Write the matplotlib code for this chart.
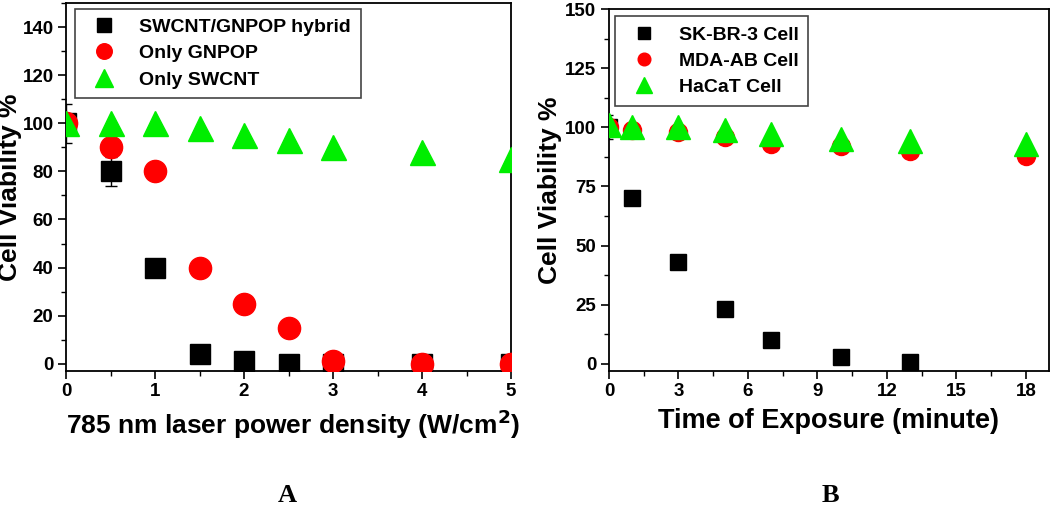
import numpy as np
import matplotlib
matplotlib.use("Agg")
import matplotlib.pyplot as plt
from matplotlib.ticker import MultipleLocator

plt.rcParams['font.family'] = ['Liberation Sans', 'DejaVu Sans']
plt.rcParams['font.weight'] = 'bold'

# panel A data
power = [0, 0.5, 1, 1.5, 2, 2.5, 3, 4, 5]
hybrid = [100, 80, 40, 4, 1, 0, 0, 0, 0]
hybrid_err = [8, 6, 0, 0, 0, 0, 0, 0, 0]
gnpop = [100, 90, 80, 40, 25, 15, 1, 0, 0]
swcnt = [100, 100, 100, 98, 95, 93, 90, 88, 85]

# panel B data
time_min = [0, 1, 3, 5, 7, 10, 13]
skbr3 = [100, 70, 43, 23, 10, 3, 1]
skbr3_err = [5, 2, 0, 0, 0, 0, 0]
time_all = [0, 1, 3, 5, 7, 10, 13, 18]
mda = [100, 99, 98, 96, 93, 92, 90, 88]
hacat = [101, 100, 100, 99, 97, 95, 94, 93]

W, H = 1050, 515
fig = plt.figure(figsize=(W / 100, H / 100), dpi=100)

def style_ax(ax):
    for s in ax.spines.values():
        s.set_linewidth(1.3)
    ax.tick_params(which='major', direction='out', length=6, width=1.2, labelsize=13.5, pad=3)
    ax.tick_params(which='minor', direction='out', length=3.5, width=1.0)
    for lab in ax.get_xticklabels() + ax.get_yticklabels():
        lab.set_fontweight('bold')

def make_legend(ax, handles, labels, anchor):
    leg = ax.legend(handles, labels, loc='upper left', bbox_to_anchor=anchor, fontsize=14,
                    fancybox=False, edgecolor='#444444', framealpha=1, markerscale=0.7,
                    handlelength=2.0, handletextpad=0.8, borderpad=0.5,
                    labelspacing=0.45, borderaxespad=0)
    leg.get_frame().set_linewidth(1.2)
    for t in leg.get_texts():
        t.set_fontweight('bold')
    return leg

# ---- panel A
ax1 = fig.add_axes([66 / W, (H - 371) / H, (511 - 66) / W, (371 - 3) / H])
e1 = ax1.errorbar(power, hybrid, yerr=hybrid_err, fmt='s', color='black', ms=14,
                  capsize=4, elinewidth=1, zorder=3)
p1, = ax1.plot(power, gnpop, 'o', color='#ff0000', ms=16, zorder=4)
t1, = ax1.plot(power, swcnt, '^', color='#00ee00', ms=18, zorder=5)
ax1.set_xlim(0, 5)
ax1.set_ylim(-3, 150)
ax1.set_xticks([0, 1, 2, 3, 4, 5])
ax1.set_yticks(np.arange(0, 141, 20))
ax1.xaxis.set_minor_locator(MultipleLocator(0.5))
ax1.yaxis.set_minor_locator(MultipleLocator(10))
style_ax(ax1)
ax1.set_xlabel('785 nm laser power density (W/cm$^\\mathbf{2}$)', fontsize=19, fontweight='bold')
ax1.xaxis.set_label_coords(0.51, -0.1)
ax1.set_ylabel('Cell Viability %', fontsize=19, fontweight='bold')
ax1.yaxis.set_label_coords(-0.098, 0.5)
make_legend(ax1, [e1[0], p1, t1], ['SWCNT/GNPOP hybrid', 'Only GNPOP', 'Only SWCNT'],
            (0.02, 0.985))

# ---- panel B
ax2 = fig.add_axes([609 / W, (H - 371) / H, (1049 - 609) / W, (371 - 9) / H])
e2 = ax2.errorbar(time_min, skbr3, yerr=skbr3_err, fmt='s', color='black', ms=12,
                  capsize=3, elinewidth=1, zorder=3)
p2, = ax2.plot(time_all, mda, 'o', color='#ff0000', ms=13, zorder=4)
t2, = ax2.plot(time_all, hacat, '^', color='#00ee00', ms=17, zorder=5)
ax2.set_xlim(0, 19)
ax2.set_ylim(-3, 150)
ax2.set_xticks([0, 3, 6, 9, 12, 15, 18])
ax2.set_yticks(np.arange(0, 151, 25))
ax2.xaxis.set_minor_locator(MultipleLocator(1.5))
ax2.yaxis.set_minor_locator(MultipleLocator(12.5))
style_ax(ax2)
ax2.set_xlabel('Time of Exposure (minute)', fontsize=19.5, fontweight='bold')
ax2.xaxis.set_label_coords(0.5, -0.102)
ax2.set_ylabel('Cell Viability %', fontsize=19, fontweight='bold')
ax2.yaxis.set_label_coords(-0.107, 0.5)
make_legend(ax2, [e2[0], p2, t2], ['SK-BR-3 Cell', 'MDA-AB Cell', 'HaCaT Cell'],
            (0.013, 0.98))

# panel letters
fig.text(287 / W, 1 - 495 / H, 'A', family='Liberation Serif', fontweight='bold',
         fontsize=19, ha='center', va='center')
fig.text(830 / W, 1 - 495 / H, 'B', family='Liberation Serif', fontweight='bold',
         fontsize=19, ha='center', va='center')

fig.savefig('out.png', dpi=100)
